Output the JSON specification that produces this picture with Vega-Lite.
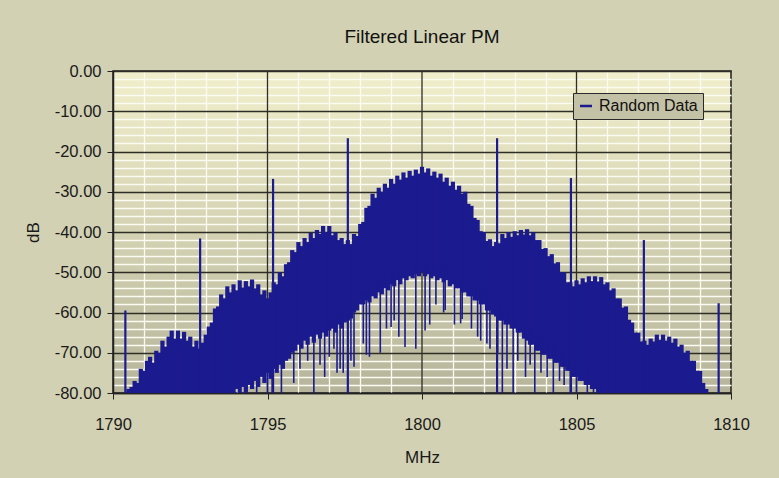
{
"$schema": "https://vega.github.io/schema/vega-lite/v6.json",
"width": 618, "height": 322,
"autosize": "none",
"padding": {"left": 113, "top": 71, "right": 48, "bottom": 85},
"background": "#d3d1b3",
"config": {"font": "Liberation Sans"},
"title": {"text": "Filtered Linear PM", "fontSize": 19, "font": "Liberation Sans", "fontWeight": "normal", "color": "#111111", "offset": 16, "anchor": "middle"},
"view": {"fill": {"gradient": "linear", "x1": 0, "y1": 0, "x2": 0, "y2": 1, "stops": [{"offset": 0, "color": "#f1efcb"}, {"offset": 1, "color": "#b6b59b"}]}, "stroke": "#1e1e1e", "strokeWidth": 1.5},
"datasets": {
"majors": [{"x":1795},{"x":1800},{"x":1805}],
"body": [
{"x":1790.5,"hi":-79,"lo":-80},{"x":1790.6,"hi":-78.5,"lo":-80},{"x":1790.7,"hi":-77,"lo":-80},{"x":1790.8,"hi":-77.5,"lo":-80},{"x":1790.9,"hi":-74,"lo":-80},
{"x":1791.0,"hi":-74.5,"lo":-80},{"x":1791.1,"hi":-72,"lo":-80},{"x":1791.2,"hi":-71,"lo":-80},{"x":1791.3,"hi":-72.5,"lo":-80},{"x":1791.4,"hi":-69.5,"lo":-80},
{"x":1791.5,"hi":-70,"lo":-80},{"x":1791.6,"hi":-67,"lo":-80},{"x":1791.7,"hi":-68.5,"lo":-80},{"x":1791.8,"hi":-66,"lo":-80},{"x":1791.9,"hi":-64.5,"lo":-80},
{"x":1792.0,"hi":-66.5,"lo":-80},{"x":1792.1,"hi":-64.5,"lo":-80},{"x":1792.2,"hi":-66.5,"lo":-80},{"x":1792.3,"hi":-64.8,"lo":-80},{"x":1792.4,"hi":-67,"lo":-80},
{"x":1792.5,"hi":-66,"lo":-80},{"x":1792.6,"hi":-68.5,"lo":-80},{"x":1792.7,"hi":-67,"lo":-80},{"x":1792.8,"hi":-69,"lo":-80},{"x":1792.9,"hi":-67.5,"lo":-80},
{"x":1793.0,"hi":-65.5,"lo":-80},{"x":1793.1,"hi":-63.5,"lo":-80},{"x":1793.2,"hi":-62.5,"lo":-80},{"x":1793.3,"hi":-59,"lo":-80},{"x":1793.4,"hi":-58.5,"lo":-80},
{"x":1793.5,"hi":-55.5,"lo":-80},{"x":1793.6,"hi":-56.5,"lo":-80},{"x":1793.7,"hi":-53.5,"lo":-80},{"x":1793.8,"hi":-55,"lo":-80},{"x":1793.9,"hi":-53,"lo":-80},
{"x":1794.0,"hi":-54.5,"lo":-79},{"x":1794.1,"hi":-52,"lo":-80},{"x":1794.2,"hi":-53.8,"lo":-78.5},{"x":1794.3,"hi":-52.2,"lo":-80},{"x":1794.4,"hi":-53.5,"lo":-78},
{"x":1794.5,"hi":-51.8,"lo":-79},{"x":1794.6,"hi":-54,"lo":-77},{"x":1794.7,"hi":-53,"lo":-78.5},{"x":1794.8,"hi":-55.5,"lo":-76},{"x":1794.9,"hi":-54.5,"lo":-77.5},
{"x":1795.0,"hi":-56.5,"lo":-75},{"x":1795.1,"hi":-55,"lo":-76.5},{"x":1795.2,"hi":-52.5,"lo":-74},{"x":1795.3,"hi":-53,"lo":-75},{"x":1795.4,"hi":-50,"lo":-73},
{"x":1795.5,"hi":-51,"lo":-74},{"x":1795.6,"hi":-48,"lo":-72},{"x":1795.7,"hi":-47.5,"lo":-71.5},{"x":1795.8,"hi":-44.5,"lo":-70},{"x":1795.9,"hi":-45,"lo":-69.5},
{"x":1796.0,"hi":-42.5,"lo":-68},{"x":1796.1,"hi":-43.5,"lo":-69},{"x":1796.2,"hi":-41.5,"lo":-67},{"x":1796.3,"hi":-42.5,"lo":-68},{"x":1796.4,"hi":-40.2,"lo":-66},
{"x":1796.5,"hi":-41.5,"lo":-67.5},{"x":1796.6,"hi":-39.5,"lo":-65.5},{"x":1796.7,"hi":-40.5,"lo":-66.5},{"x":1796.8,"hi":-38.5,"lo":-65},{"x":1796.9,"hi":-40,"lo":-66},
{"x":1797.0,"hi":-38.5,"lo":-64.5},{"x":1797.1,"hi":-40.8,"lo":-64},{"x":1797.2,"hi":-40,"lo":-65},{"x":1797.3,"hi":-42,"lo":-63},{"x":1797.4,"hi":-41.5,"lo":-64},
{"x":1797.5,"hi":-43,"lo":-62.5},{"x":1797.6,"hi":-42,"lo":-62},{"x":1797.7,"hi":-43,"lo":-61.5},{"x":1797.8,"hi":-40.5,"lo":-60},{"x":1797.9,"hi":-41,"lo":-59.5},
{"x":1798.0,"hi":-38,"lo":-58},{"x":1798.1,"hi":-37.5,"lo":-58},{"x":1798.2,"hi":-34,"lo":-57},{"x":1798.3,"hi":-33.5,"lo":-57.5},{"x":1798.4,"hi":-30.5,"lo":-56},
{"x":1798.5,"hi":-31.5,"lo":-56.5},{"x":1798.6,"hi":-29,"lo":-55},{"x":1798.7,"hi":-30,"lo":-55.5},{"x":1798.8,"hi":-28,"lo":-54},{"x":1798.9,"hi":-29,"lo":-54.5},
{"x":1799.0,"hi":-26.8,"lo":-53},{"x":1799.1,"hi":-28,"lo":-53.5},{"x":1799.2,"hi":-26,"lo":-52},{"x":1799.3,"hi":-27,"lo":-53},{"x":1799.4,"hi":-25.2,"lo":-51.5},
{"x":1799.5,"hi":-26.5,"lo":-52},{"x":1799.6,"hi":-24.8,"lo":-51},{"x":1799.7,"hi":-26,"lo":-51.5},{"x":1799.8,"hi":-24.5,"lo":-50.5},{"x":1799.9,"hi":-25.5,"lo":-51},
{"x":1800.0,"hi":-23.8,"lo":-50},{"x":1800.1,"hi":-25.2,"lo":-51},{"x":1800.2,"hi":-24.2,"lo":-50.5},{"x":1800.3,"hi":-26,"lo":-51.5},{"x":1800.4,"hi":-25,"lo":-51},
{"x":1800.5,"hi":-26.5,"lo":-52},{"x":1800.6,"hi":-25.5,"lo":-51.5},{"x":1800.7,"hi":-27.5,"lo":-52.5},{"x":1800.8,"hi":-26.5,"lo":-52},{"x":1800.9,"hi":-28.5,"lo":-53.5},
{"x":1801.0,"hi":-27.5,"lo":-53},{"x":1801.1,"hi":-29.5,"lo":-54},{"x":1801.2,"hi":-28.5,"lo":-54},{"x":1801.3,"hi":-30.5,"lo":-55},{"x":1801.4,"hi":-30,"lo":-55},
{"x":1801.5,"hi":-33,"lo":-56},{"x":1801.6,"hi":-33.5,"lo":-56},{"x":1801.7,"hi":-36.5,"lo":-57},{"x":1801.8,"hi":-37,"lo":-57},{"x":1801.9,"hi":-39.8,"lo":-58},
{"x":1802.0,"hi":-40,"lo":-58},{"x":1802.1,"hi":-42.2,"lo":-59.5},{"x":1802.2,"hi":-41.8,"lo":-59.5},{"x":1802.3,"hi":-43.5,"lo":-60.5},{"x":1802.4,"hi":-42.5,"lo":-61},
{"x":1802.5,"hi":-42.8,"lo":-62},{"x":1802.6,"hi":-40.5,"lo":-62},{"x":1802.7,"hi":-41.5,"lo":-63},{"x":1802.8,"hi":-40,"lo":-63},{"x":1802.9,"hi":-41.2,"lo":-64},
{"x":1803.0,"hi":-39.8,"lo":-64},{"x":1803.1,"hi":-40.8,"lo":-65},{"x":1803.2,"hi":-39.5,"lo":-65},{"x":1803.3,"hi":-40.6,"lo":-66.5},{"x":1803.4,"hi":-39.3,"lo":-67},
{"x":1803.5,"hi":-40.8,"lo":-68},{"x":1803.6,"hi":-40,"lo":-68},{"x":1803.7,"hi":-42,"lo":-69.5},{"x":1803.8,"hi":-42,"lo":-69.5},{"x":1803.9,"hi":-44.2,"lo":-70.5},
{"x":1804.0,"hi":-44,"lo":-70.5},{"x":1804.1,"hi":-46,"lo":-71.5},{"x":1804.2,"hi":-45.5,"lo":-71.5},{"x":1804.3,"hi":-47.8,"lo":-72.5},{"x":1804.4,"hi":-47.5,"lo":-72.5},
{"x":1804.5,"hi":-50,"lo":-73.5},{"x":1804.6,"hi":-50,"lo":-73.5},{"x":1804.7,"hi":-52.5,"lo":-74.5},{"x":1804.8,"hi":-52.5,"lo":-74.5},{"x":1804.9,"hi":-53.5,"lo":-76},
{"x":1805.0,"hi":-52,"lo":-76},{"x":1805.1,"hi":-53,"lo":-77},{"x":1805.2,"hi":-51.5,"lo":-77},{"x":1805.3,"hi":-52.5,"lo":-78},{"x":1805.4,"hi":-51,"lo":-78},
{"x":1805.5,"hi":-52.2,"lo":-79},{"x":1805.6,"hi":-51,"lo":-79},{"x":1805.7,"hi":-52.3,"lo":-80},{"x":1805.8,"hi":-51.2,"lo":-80},{"x":1805.9,"hi":-53,"lo":-80},
{"x":1806.0,"hi":-52.5,"lo":-80},{"x":1806.1,"hi":-54.5,"lo":-80},{"x":1806.2,"hi":-54,"lo":-80},{"x":1806.3,"hi":-56.5,"lo":-80},{"x":1806.4,"hi":-56.5,"lo":-80},
{"x":1806.5,"hi":-58.8,"lo":-80},{"x":1806.6,"hi":-58.5,"lo":-80},{"x":1806.7,"hi":-61.8,"lo":-80},{"x":1806.8,"hi":-62.5,"lo":-80},{"x":1806.9,"hi":-65,"lo":-80},
{"x":1807.0,"hi":-65,"lo":-80},{"x":1807.1,"hi":-67.2,"lo":-80},{"x":1807.2,"hi":-67,"lo":-80},{"x":1807.3,"hi":-68,"lo":-80},{"x":1807.4,"hi":-66.5,"lo":-80},
{"x":1807.5,"hi":-67.2,"lo":-80},{"x":1807.6,"hi":-65.5,"lo":-80},{"x":1807.7,"hi":-66.8,"lo":-80},{"x":1807.8,"hi":-65.5,"lo":-80},{"x":1807.9,"hi":-67,"lo":-80},
{"x":1808.0,"hi":-66,"lo":-80},{"x":1808.1,"hi":-67.5,"lo":-80},{"x":1808.2,"hi":-66.5,"lo":-80},{"x":1808.3,"hi":-68.5,"lo":-80},{"x":1808.4,"hi":-68,"lo":-80},
{"x":1808.5,"hi":-70,"lo":-80},{"x":1808.6,"hi":-69.5,"lo":-80},{"x":1808.7,"hi":-72,"lo":-80},{"x":1808.8,"hi":-72,"lo":-80},{"x":1808.9,"hi":-74.5,"lo":-80},
{"x":1809.0,"hi":-74.5,"lo":-80},{"x":1809.1,"hi":-77.5,"lo":-80},{"x":1809.2,"hi":-79,"lo":-80}
],
"dips": [
{"x":1794.65,"lo":-80,"hi":-76},{"x":1795.0,"lo":-80,"hi":-74},{"x":1795.15,"lo":-80,"hi":-74},{"x":1795.45,"lo":-80,"hi":-72},
{"x":1795.85,"lo":-77.5,"hi":-68},{"x":1796.05,"lo":-74,"hi":-66},{"x":1796.3,"lo":-72,"hi":-66},{"x":1796.5,"lo":-80,"hi":-65},
{"x":1796.7,"lo":-73,"hi":-64},{"x":1796.85,"lo":-76,"hi":-64},{"x":1797.0,"lo":-71,"hi":-63},{"x":1797.15,"lo":-69,"hi":-62},
{"x":1797.25,"lo":-75,"hi":-62},{"x":1797.35,"lo":-74,"hi":-61},{"x":1797.45,"lo":-75,"hi":-61},{"x":1797.7,"lo":-72,"hi":-59},
{"x":1797.8,"lo":-73.5,"hi":-58},{"x":1798.1,"lo":-67.7,"hi":-55},{"x":1798.2,"lo":-70.5,"hi":-55},{"x":1798.3,"lo":-71,"hi":-54},
{"x":1798.65,"lo":-70,"hi":-53},{"x":1798.85,"lo":-64,"hi":-52},{"x":1799.0,"lo":-63.6,"hi":-51},{"x":1799.1,"lo":-62,"hi":-50},
{"x":1799.25,"lo":-66,"hi":-50},{"x":1799.45,"lo":-68.6,"hi":-49},{"x":1799.8,"lo":-69,"hi":-48},{"x":1800.1,"lo":-64.5,"hi":-48},
{"x":1800.25,"lo":-63,"hi":-48},{"x":1800.45,"lo":-58,"hi":-49},{"x":1800.7,"lo":-60,"hi":-49},{"x":1800.75,"lo":-59.4,"hi":-50},
{"x":1801.05,"lo":-63,"hi":-51},{"x":1801.25,"lo":-62.7,"hi":-51},{"x":1801.3,"lo":-61.6,"hi":-52},{"x":1801.6,"lo":-64,"hi":-53},
{"x":1801.8,"lo":-66,"hi":-54},{"x":1801.9,"lo":-67,"hi":-55},{"x":1802.1,"lo":-67.7,"hi":-56},{"x":1802.2,"lo":-69,"hi":-57},
{"x":1802.45,"lo":-70,"hi":-58},{"x":1802.6,"lo":-80,"hi":-59},{"x":1802.75,"lo":-74,"hi":-60},{"x":1802.95,"lo":-80,"hi":-61},
{"x":1803.1,"lo":-72,"hi":-62},{"x":1803.35,"lo":-76,"hi":-63},{"x":1803.5,"lo":-73,"hi":-65},{"x":1803.65,"lo":-80,"hi":-66},
{"x":1803.85,"lo":-75,"hi":-67},{"x":1804.05,"lo":-76,"hi":-68},{"x":1804.25,"lo":-80,"hi":-69},{"x":1804.45,"lo":-77,"hi":-70},
{"x":1804.6,"lo":-78,"hi":-71},{"x":1804.8,"lo":-80,"hi":-72},{"x":1805.0,"lo":-80,"hi":-74},{"x":1805.35,"lo":-80,"hi":-75},
{"x":1805.55,"lo":-80,"hi":-77},{"x":1805.75,"lo":-80,"hi":-78}
],
"spurs": [
{"x":1790.4,"hi":-59.5,"lo":-80},{"x":1792.82,"hi":-41.6,"lo":-80},{"x":1795.18,"hi":-26.8,"lo":-80},{"x":1797.6,"hi":-16.7,"lo":-80},
{"x":1802.43,"hi":-16.7,"lo":-80},{"x":1804.82,"hi":-26.6,"lo":-80},{"x":1807.18,"hi":-42,"lo":-80},{"x":1809.6,"hi":-57.7,"lo":-80}
]
},
"encoding": {
  "x": {"field": "x", "type": "quantitative", "title": "MHz",
   "scale": {"domain": [1790, 1810], "nice": false, "zero": false},
   "axis": {"values": [1790,1791,1792,1793,1794,1795,1796,1797,1798,1799,1800,1801,1802,1803,1804,1805,1806,1807,1808,1809,1810],
    "labelExpr": "datum.value % 5 === 0 ? '' + datum.value : ''",
    "labelOverlap": false, "labelFlush": false, "labelBound": false,
    "labelFontSize": 16.5, "labelColor": "#1a1a1a", "labelPadding": 17,
    "tickSize": 6, "tickColor": "#222222",
    "tickOpacity": {"condition": {"test": "datum.value % 5 === 0", "value": 1}, "value": 0},
    "domainColor": "#222222", "domainWidth": 1.5,
    "gridColor": "#fbfbf2",
    "gridOpacity": {"condition": {"test": "datum.value % 5 === 0", "value": 0}, "value": 1},
    "gridWidth": 1.3,
    "titleFontSize": 17, "titleFontWeight": "normal", "titleColor": "#1a1a1a", "titlePadding": 17}}
},
"layer": [
{"data": {"name": "majors"},
 "mark": {"type": "rule", "color": "#2e2e26", "strokeWidth": 1.3}},
{"encoding": {
  "y": {"field": "hi", "type": "quantitative", "title": "dB",
   "scale": {"domain": [-80, 0], "nice": false, "zero": false},
   "axis": {"values": [0,-2,-4,-6,-8,-10,-12,-14,-16,-18,-20,-22,-24,-26,-28,-30,-32,-34,-36,-38,-40,-42,-44,-46,-48,-50,-52,-54,-56,-58,-60,-62,-64,-66,-68,-70,-72,-74,-76,-78,-80],
    "labelExpr": "datum.value % 10 === 0 ? datum.value + '.00' : ''",
    "labelOverlap": false, "labelFlush": false, "labelBound": false,
    "labelFontSize": 16.5, "labelColor": "#1a1a1a", "labelPadding": 6,
    "tickSize": 6, "tickColor": "#222222",
    "tickOpacity": {"condition": {"test": "datum.value % 10 === 0", "value": 1}, "value": 0},
    "domainColor": "#222222", "domainWidth": 1.5,
    "gridColor": {"condition": {"test": "datum.value % 10 === 0", "value": "#2e2e26"}, "value": "#fbfbf2"},
    "gridWidth": 1.3, "gridOpacity": 1,
    "titleFontSize": 17, "titleFontWeight": "normal", "titleColor": "#1a1a1a", "titlePadding": 12}},
  "y2": {"field": "lo"}
 },
 "layer": [
  {"data": {"name": "body"},
   "mark": {"type": "rule", "color": "#1b1b8f", "strokeWidth": 4.2}},
  {"data": {"name": "dips"},
   "mark": {"type": "rule", "color": "#1b1b8f", "strokeWidth": 1.6}},
  {"data": {"name": "spurs"},
   "mark": {"type": "rule", "strokeWidth": 2.2},
   "encoding": {
    "color": {"datum": "Random Data", "type": "nominal", "scale": {"range": ["#1b1b8f"]},
     "legend": {"title": null, "orient": "none", "legendX": 460, "legendY": 22,
      "symbolType": "stroke", "symbolSize": 144, "symbolStrokeWidth": 2.5,
      "labelFontSize": 16, "labelColor": "#111111", "labelOffset": 5,
      "fillColor": "#c4c2a6", "strokeColor": "#2a2a2a", "padding": 5}}
   }}
 ]}
]
}
